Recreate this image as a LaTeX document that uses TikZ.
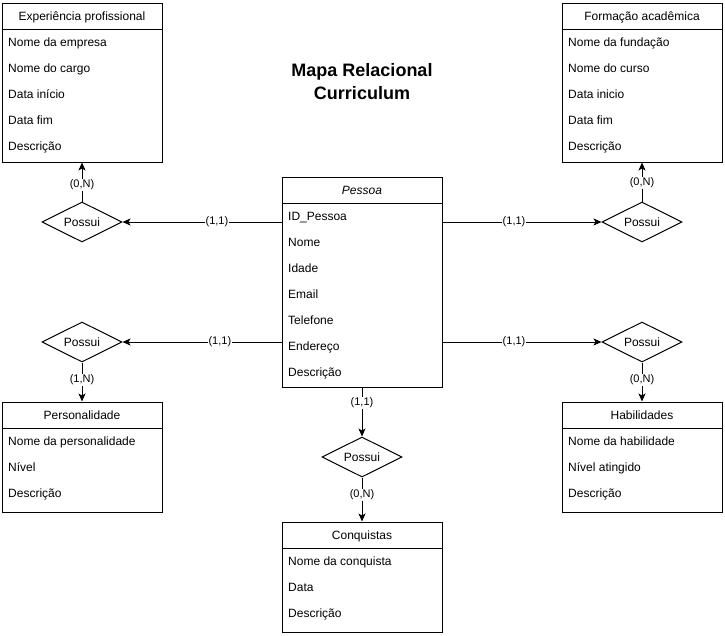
\documentclass[tikz,border=0pt]{standalone}
\usepackage{fontspec}
\setmainfont{Liberation Sans}
\usetikzlibrary{shapes.geometric,arrows.meta}
\begin{document}
\begin{tikzpicture}[x=1pt,y=-1pt,
  tbl/.style={draw,line width=1pt,minimum width=160pt,inner sep=0pt,fill=white},
  hdr/.style={font=\fontsize{12}{14}\selectfont,anchor=base,inner sep=0pt},
  row/.style={font=\fontsize{12}{14}\selectfont,anchor=base west,inner sep=0pt},
  rel/.style={draw,diamond,line width=1pt,minimum width=80pt,minimum height=40pt,aspect=2,inner sep=0pt,font=\fontsize{12}{14}\selectfont,text height=8.6pt,text depth=0pt},
  conn/.style={line width=1pt,-{Stealth[length=8pt,width=7pt,inset=2pt]}},
  card/.style={fill=white,inner sep=1pt,font=\fontsize{11}{13}\selectfont,text height=8pt,text depth=2.5pt}
]
\useasboundingbox (0,0) rectangle (725,635);

% Title
\node[font=\bfseries\fontsize{18}{22.6}\selectfont,anchor=base,inner sep=0pt] (title1) at (362,76.7) {Mapa Relacional};
\node[font=\bfseries\fontsize{18}{22.6}\selectfont,anchor=base,inner sep=0pt] (title2) at (362,99.3) {Curriculum};

% Experiencia profissional
\node[tbl,minimum height=159pt] (exp) at (82,82.5) {};
\draw[line width=1pt] (exp.west |- 0,29) -- (exp.east |- 0,29);
\node[hdr] (exph) at (82,20.5) {Experiência profissional};
\node[row] (exp1) at (8,46.5) {Nome da empresa};
\node[row] (exp2) at (8,72.5) {Nome do cargo};
\node[row] (exp3) at (8,98.5) {Data início};
\node[row] (exp4) at (8,124.5) {Data fim};
\node[row] (exp5) at (8,150.5) {Descrição};

% Formacao academica
\node[tbl,minimum height=159pt] (form) at (642,82.5) {};
\draw[line width=1pt] (form.west |- 0,29) -- (form.east |- 0,29);
\node[hdr] (formh) at (642,20.5) {Formação acadêmica};
\node[row] (form1) at (568,46.5) {Nome da fundação};
\node[row] (form2) at (568,72.5) {Nome do curso};
\node[row] (form3) at (568,98.5) {Data inicio};
\node[row] (form4) at (568,124.5) {Data fim};
\node[row] (form5) at (568,150.5) {Descrição};

% Pessoa
\node[tbl,minimum height=210pt] (pes) at (362,282) {};
\draw[line width=1pt] (pes.west |- 0,203) -- (pes.east |- 0,203);
\node[hdr,font=\itshape\fontsize{12}{14}\selectfont] (pesh) at (362,194.5) {Pessoa};
\node[row] (pes1) at (288,220.5) {ID\_Pessoa};
\node[row] (pes2) at (288,246.5) {Nome};
\node[row] (pes3) at (288,272.5) {Idade};
\node[row] (pes4) at (288,298.5) {Email};
\node[row] (pes5) at (288,324.5) {Telefone};
\node[row] (pes6) at (288,350.5) {Endereço};
\node[row] (pes7) at (288,376.5) {Descrição};

% Personalidade
\node[tbl,minimum height=110pt] (per) at (82,457) {};
\draw[line width=1pt] (per.west |- 0,428) -- (per.east |- 0,428);
\node[hdr] (perh) at (82,419.5) {Personalidade};
\node[row] (per1) at (8,445.5) {Nome da personalidade};
\node[row] (per2) at (8,471.5) {Nível};
\node[row] (per3) at (8,497.5) {Descrição};

% Habilidades
\node[tbl,minimum height=110pt] (hab) at (642,457) {};
\draw[line width=1pt] (hab.west |- 0,428) -- (hab.east |- 0,428);
\node[hdr] (habh) at (642,419.5) {Habilidades};
\node[row] (hab1) at (568,445.5) {Nome da habilidade};
\node[row] (hab2) at (568,471.5) {Nível atingido};
\node[row] (hab3) at (568,497.5) {Descrição};

% Conquistas
\node[tbl,minimum height=110pt] (con) at (362,577) {};
\draw[line width=1pt] (con.west |- 0,548) -- (con.east |- 0,548);
\node[hdr] (conh) at (362,539.5) {Conquistas};
\node[row] (con1) at (288,565.5) {Nome da conquista};
\node[row] (con2) at (288,591.5) {Data};
\node[row] (con3) at (288,617.5) {Descrição};

% Relationships
\node[rel] (r1) at (82,222) {Possui};
\node[rel] (r2) at (642,222) {Possui};
\node[rel] (r3) at (82,342) {Possui};
\node[rel] (r4) at (642,342) {Possui};
\node[rel] (r5) at (362,457) {Possui};

% Connectors
\draw[conn] (pes.west |- r1) -- (r1.east) node[card,pos=0.406] {(1,1)};
\draw[conn] (r1.north) -- (exp.south) node[card,pos=0.425] {(0,N)};
\draw[conn] (pes.east |- r2) -- (r2.west) node[card,pos=0.45] {(1,1)};
\draw[conn] (r2.north) -- (form.south) node[card,pos=0.475] {(0,N)};
\draw[conn] (pes.west |- r3) -- (r3.east) node[card,pos=0.3875] {(1,1)};
\draw[conn] (r3.south) -- (per.north) node[card,pos=0.45] {(1,N)};
\draw[conn] (pes.east |- r4) -- (r4.west) node[card,pos=0.45] {(1,1)};
\draw[conn] (r4.south) -- (hab.north) node[card,pos=0.45] {(0,N)};
\draw[conn] (pes.south) -- (r5.north) node[card,pos=0.32] {(1,1)};
\draw[conn] (r5.south) -- (con.north) node[card,pos=0.4] {(0,N)};
\end{tikzpicture}
\end{document}
